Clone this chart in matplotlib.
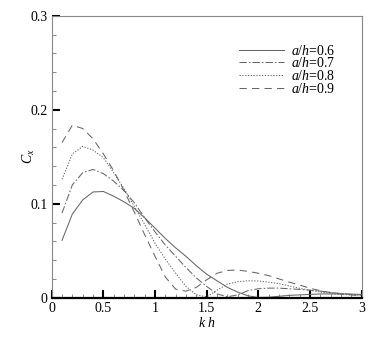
import matplotlib
matplotlib.use("Agg")
import matplotlib.pyplot as plt
from matplotlib.ticker import MultipleLocator, FormatStrFormatter

plt.rcParams['font.family'] = 'Liberation Serif'
plt.rcParams['mathtext.fontset'] = 'custom'
plt.rcParams['mathtext.rm'] = 'Liberation Serif'
plt.rcParams['mathtext.it'] = 'Liberation Serif:italic'

# values
kh = [0.1, 0.2, 0.3, 0.4, 0.5, 0.6, 0.7, 0.8, 0.9, 1.0,
      1.1, 1.2, 1.3, 1.4, 1.5, 1.6, 1.7, 1.8, 1.9, 2.0,
      2.1, 2.2, 2.3, 2.4, 2.5, 2.6, 2.7, 2.8, 2.9, 3.0]

cx_06 = [0.061, 0.089, 0.104, 0.1125, 0.113, 0.108, 0.102, 0.095, 0.085, 0.074,
         0.063, 0.053, 0.044, 0.034, 0.025, 0.018, 0.011, 0.006, 0.002, 0.0003,
         0.0005, 0.0015, 0.0025, 0.003, 0.0035, 0.004, 0.004, 0.004, 0.0038, 0.0035]

cx_07 = [0.090, 0.120, 0.133, 0.1365, 0.132, 0.124, 0.114, 0.101, 0.085, 0.070,
         0.056, 0.044, 0.032, 0.021, 0.012, 0.004, 0.001, 0.003, 0.0075, 0.0095,
         0.0102, 0.0102, 0.0095, 0.0088, 0.008, 0.007, 0.0055, 0.0045, 0.0035, 0.003]

cx_08 = [0.126, 0.153, 0.161, 0.157, 0.149, 0.133, 0.116, 0.097, 0.078, 0.058,
         0.041, 0.026, 0.012, 0.003, 0.001, 0.008, 0.0145, 0.017, 0.018, 0.0178,
         0.0165, 0.015, 0.0125, 0.010, 0.008, 0.006, 0.0045, 0.0035, 0.003, 0.0025]

cx_09 = [0.165, 0.1835, 0.180, 0.169, 0.153, 0.135, 0.114, 0.091, 0.067, 0.044,
         0.022, 0.009, 0.007, 0.011, 0.019, 0.026, 0.029, 0.0295, 0.028, 0.026,
         0.0235, 0.020, 0.0165, 0.0135, 0.010, 0.0075, 0.0055, 0.004, 0.003, 0.002]

labels = ['$a/h$=0.6', '$a/h$=0.7', '$a/h$=0.8', '$a/h$=0.9']

fig = plt.figure(figsize=(3.73, 3.40), dpi=100)
ax = fig.add_axes([0.1386, 0.1244, 0.831, 0.8294])

lc = '#666666'
ax.plot(kh, cx_06, color=lc, lw=0.75, linestyle='-', label=labels[0])
ax.plot(kh, cx_07, color=lc, lw=0.75, linestyle=(0, (7, 2, 1.5, 2)), label=labels[1])
ax.plot(kh, cx_08, color=lc, lw=0.75, linestyle=(0, (1.2, 1.5)), label=labels[2])
ax.plot(kh, cx_09, color=lc, lw=0.75, linestyle=(0, (7, 5)), label=labels[3])

ax.set_xlim(0, 3)
ax.set_ylim(0, 0.3)
ax.xaxis.set_major_locator(MultipleLocator(0.5))
ax.xaxis.set_minor_locator(MultipleLocator(0.1))
ax.yaxis.set_major_locator(MultipleLocator(0.1))
ax.yaxis.set_minor_locator(MultipleLocator(0.02))
ax.xaxis.set_major_formatter(FormatStrFormatter('%g'))
ax.yaxis.set_major_formatter(FormatStrFormatter('%g'))

ax.tick_params(which='major', direction='in', length=6, width=1.5, color='black',
               labelsize=10, pad=3)
ax.tick_params(which='minor', direction='in', length=3, width=0.7, color='#888888')
ax.tick_params(top=False, right=False)

for side in ['left', 'top', 'right']:
    ax.spines[side].set_color('#888888')
    ax.spines[side].set_linewidth(0.8)
ax.spines['bottom'].set_color('black')
ax.spines['bottom'].set_linewidth(1.6)

ax.set_xlabel('$k$ $h$', fontsize=10, labelpad=1)
ax.set_ylabel('$C_x$', fontsize=10, labelpad=-5)

ax.legend(loc='upper right', bbox_to_anchor=(0.95, 0.94), frameon=False, fontsize=10,
          handlelength=3.2, handletextpad=0.5, labelspacing=-0.1, borderpad=0.3)

fig.savefig('out.png', dpi=100)
